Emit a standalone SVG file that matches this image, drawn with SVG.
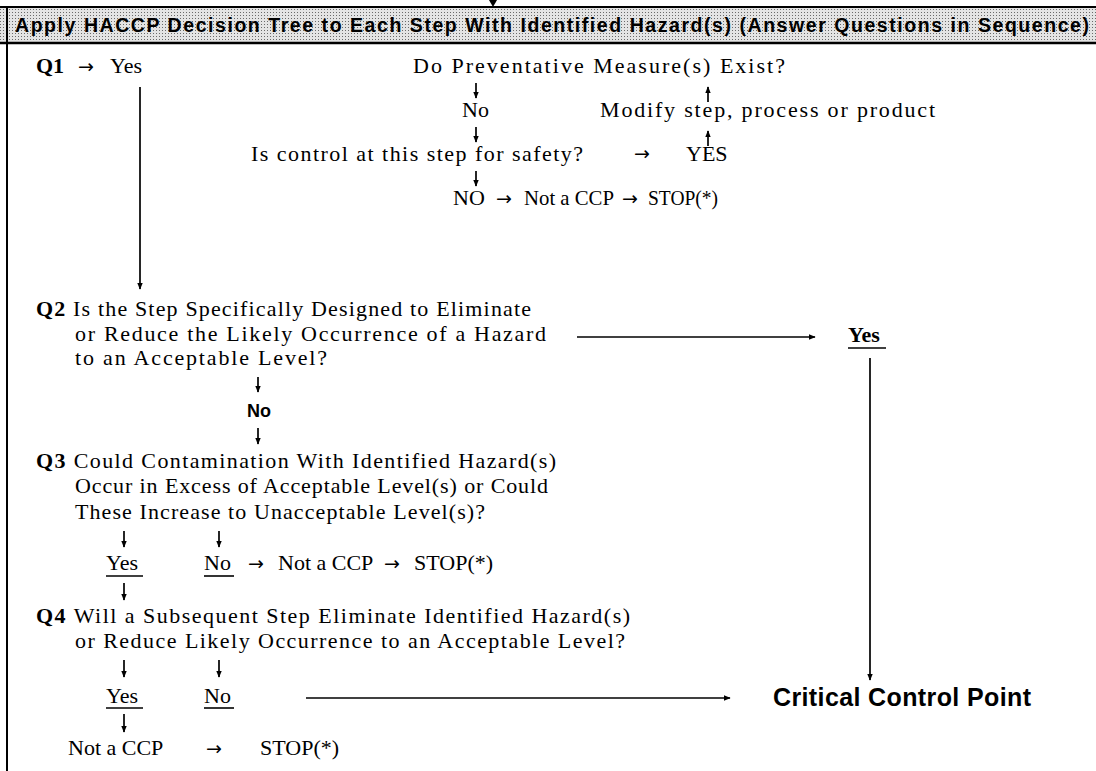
<svg xmlns="http://www.w3.org/2000/svg" width="1096" height="771" viewBox="0 0 1096 771">
<style>
.t{font-family:"Liberation Serif","Times New Roman",serif;font-size:22px;fill:#000}
.b{font-weight:bold}
.a{font-family:"DejaVu Sans",sans-serif;font-size:19px}
.s{font-family:"Liberation Sans",Arial,sans-serif;font-weight:bold;fill:#000}
.ar{stroke:#000;stroke-width:1.7;fill:none;marker-end:url(#ah)}
.u{stroke:#000;stroke-width:1.6}
</style>
<defs>
<pattern id="dots" width="3" height="3" patternUnits="userSpaceOnUse"><rect width="3" height="3" fill="#e4e4e4"/><rect width="1" height="1" fill="#6a6a6a"/></pattern>
<marker id="ah" viewBox="0 0 10 10" refX="9" refY="5" markerWidth="7" markerHeight="7" orient="auto" markerUnits="userSpaceOnUse"><path d="M0,1 L10,5 L0,9 Z" fill="#000"/></marker>
</defs>
<rect width="1096" height="771" fill="#fff"/>
<g id="frame">
<rect x="0" y="7" width="1096" height="36" fill="url(#dots)"/>
<line x1="0" y1="7" x2="1096" y2="7" stroke="#000" stroke-width="2"/>
<line x1="0" y1="43" x2="1096" y2="43" stroke="#000" stroke-width="2.5"/>
<line x1="7" y1="7" x2="7" y2="771" stroke="#000" stroke-width="2"/>
<path d="M489,0 L497,0 L493,7 Z" fill="#000"/>
<text class="s" x="15" y="32" font-size="19.5" textLength="1074" lengthAdjust="spacing">Apply HACCP Decision Tree to Each Step With Identified Hazard(s) (Answer Questions in Sequence)</text>
</g>
<g id="connectors">
<line class="ar" x1="140" y1="87" x2="140" y2="289"/>
<line class="ar" x1="476" y1="83" x2="476" y2="98"/>
<line class="ar" x1="476" y1="127" x2="476" y2="142"/>
<line class="ar" x1="476" y1="171" x2="476" y2="186"/>
<line class="ar" x1="708" y1="146" x2="708" y2="131"/>
<line class="ar" x1="708" y1="102" x2="708" y2="87"/>
<line class="ar" x1="577" y1="337" x2="815" y2="337"/>
<line class="ar" x1="870" y1="358" x2="870" y2="680"/>
<line class="ar" x1="258" y1="377" x2="258" y2="392"/>
<line class="ar" x1="258" y1="428" x2="258" y2="444"/>
<line class="ar" x1="124" y1="531" x2="124" y2="547"/>
<line class="ar" x1="219" y1="531" x2="219" y2="547"/>
<line class="ar" x1="124" y1="583" x2="124" y2="600"/>
<line class="ar" x1="124" y1="660" x2="124" y2="677"/>
<line class="ar" x1="219" y1="660" x2="219" y2="677"/>
<line class="ar" x1="306" y1="698" x2="730" y2="698"/>
<line class="ar" x1="124" y1="714" x2="124" y2="732"/>
</g>
<g id="q1">
<text class="t" x="36" y="73"><tspan class="b">Q1</tspan><tspan class="a" x="78">→</tspan><tspan x="110">Yes</tspan></text>
</g>
<g id="preventative">
<text class="t" x="413" y="73" textLength="372" lengthAdjust="spacing">Do Preventative Measure(s) Exist?</text>
</g>
<g id="no1">
<text class="t" x="462" y="117">No</text>
</g>
<g id="modify">
<text class="t" x="600" y="117" textLength="335" lengthAdjust="spacing">Modify step, process or product</text>
</g>
<g id="control">
<text class="t" x="251" y="161" textLength="332" lengthAdjust="spacing">Is control at this step for safety?</text>
<text class="a" x="634" y="160">→</text>
</g>
<g id="yes1">
<text class="t" x="686" y="161">YES</text>
</g>
<g id="no-stop1">
<text class="t" x="453" y="205">NO<tspan class="a" x="496">→</tspan><tspan x="524" textLength="90" lengthAdjust="spacingAndGlyphs">Not a CCP</tspan><tspan class="a" x="622">→</tspan><tspan x="648" textLength="70" lengthAdjust="spacingAndGlyphs">STOP(*)</tspan></text>
</g>
<g id="q2">
<text class="t" x="36" y="316" textLength="495" lengthAdjust="spacing"><tspan class="b">Q2</tspan> Is the Step Specifically Designed to Eliminate</text>
<text class="t" x="75" y="341" textLength="471" lengthAdjust="spacing">or Reduce the Likely Occurrence of a Hazard</text>
<text class="t" x="75" y="365" textLength="252" lengthAdjust="spacing">to an Acceptable Level?</text>
</g>
<g id="yes2">
<text class="t b" x="848" y="342">Yes</text>
<line class="u" x1="848" y1="348" x2="886" y2="348"/>
</g>
<g id="no2">
<text class="s" x="247" y="417" font-size="18">No</text>
</g>
<g id="q3">
<text class="t" x="36" y="468" textLength="520" lengthAdjust="spacing"><tspan class="b">Q3</tspan> Could Contamination With Identified Hazard(s)</text>
<text class="t" x="75" y="493" textLength="473" lengthAdjust="spacing">Occur in Excess of Acceptable Level(s) or Could</text>
<text class="t" x="75" y="519" textLength="410" lengthAdjust="spacing">These Increase to Unacceptable Level(s)?</text>
</g>
<g id="q3-yes">
<text class="t" x="106" y="570">Yes</text>
<line class="u" x1="106" y1="576" x2="143" y2="576"/>
</g>
<g id="q3-no">
<text class="t" x="204" y="570">No</text>
<line class="u" x1="204" y1="576" x2="234" y2="576"/>
<text class="t" x="248" y="570"><tspan class="a">→</tspan><tspan x="278">Not a CCP</tspan><tspan class="a" x="384">→</tspan><tspan x="414">STOP(*)</tspan></text>
</g>
<g id="q4">
<text class="t" x="36" y="623" textLength="594" lengthAdjust="spacing"><tspan class="b">Q4</tspan> Will a Subsequent Step Eliminate Identified Hazard(s)</text>
<text class="t" x="75" y="648" textLength="550" lengthAdjust="spacing">or Reduce Likely Occurrence to an Acceptable Level?</text>
</g>
<g id="q4-yes">
<text class="t" x="106" y="703">Yes</text>
<line class="u" x1="106" y1="708" x2="143" y2="708"/>
</g>
<g id="q4-no">
<text class="t" x="204" y="703">No</text>
<line class="u" x1="204" y1="708" x2="234" y2="708"/>
</g>
<g id="ccp">
<text class="s" x="773" y="706" font-size="25" textLength="258" lengthAdjust="spacing">Critical Control Point</text>
</g>
<g id="stop3">
<text class="t" x="68" y="755">Not a CCP<tspan class="a" x="206">→</tspan><tspan x="260">STOP(*)</tspan></text>
</g>
</svg>
